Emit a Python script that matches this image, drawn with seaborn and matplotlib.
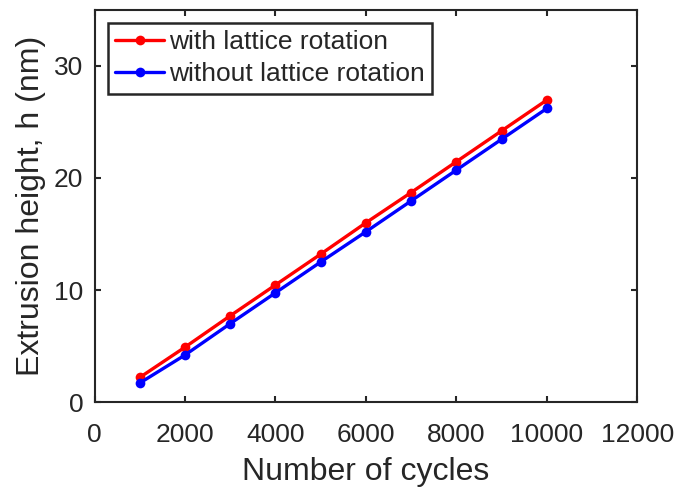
import numpy as np
import pandas as pd
import matplotlib
matplotlib.use('Agg')
import matplotlib.pyplot as plt
import seaborn as sns

# data
cycles = [1000, 2000, 3000, 4000, 5000, 6000, 7000, 8000, 9000, 10000]
h_with = [2.2, 4.9, 7.7, 10.45, 13.2, 16.0, 18.7, 21.45, 24.2, 26.95]
h_without = [1.7, 4.2, 7.0, 9.75, 12.5, 15.2, 17.95, 20.7, 23.45, 26.2]
labels = ['with lattice rotation', 'without lattice rotation']
colors = ['#ff0000', '#0000ff']

df = pd.DataFrame({
    'cycles': cycles * 2,
    'h': h_with + h_without,
    'case': [labels[0]] * len(cycles) + [labels[1]] * len(cycles),
})

sns.set_style('ticks')
plt.rcParams['font.family'] = ['Liberation Sans', 'DejaVu Sans']

fig = plt.figure(figsize=(6.8, 4.94), dpi=100)
ax = fig.add_axes([0.139, 0.186, 0.798, 0.794])

sns.lineplot(data=df, x='cycles', y='h', hue='case', hue_order=labels,
             palette=colors, marker='o', markersize=7, markeredgewidth=0,
             linewidth=2.4, ax=ax)

ax.set_xlim(0, 12000)
ax.set_ylim(0, 35)
ax.set_xticks(np.arange(0, 12001, 2000))
ax.set_yticks([0, 10, 20, 30])
ax.set_xlabel('Number of cycles', fontsize=23, color='#262626', labelpad=7)
ax.set_ylabel('Extrusion height, h (nm)', fontsize=23, color='#262626', labelpad=6)

for s in ax.spines.values():
    s.set_visible(True)
    s.set_linewidth(1.5)
    s.set_color('#262626')
ax.tick_params(direction='in', length=4, width=1.5, labelsize=19,
               top=True, right=True, colors='#262626')
ax.tick_params(axis='x', pad=15)
ax.tick_params(axis='y', pad=8)

leg = ax.legend(loc='upper left', fontsize=19, frameon=True, fancybox=False,
                edgecolor='#262626', borderpad=0.28, handlelength=1.85,
                handletextpad=0.2, labelspacing=0.3, borderaxespad=0.5)
leg.get_frame().set_linewidth(1.8)
leg.get_frame().set_alpha(1)

fig.savefig('out.png', dpi=100)
